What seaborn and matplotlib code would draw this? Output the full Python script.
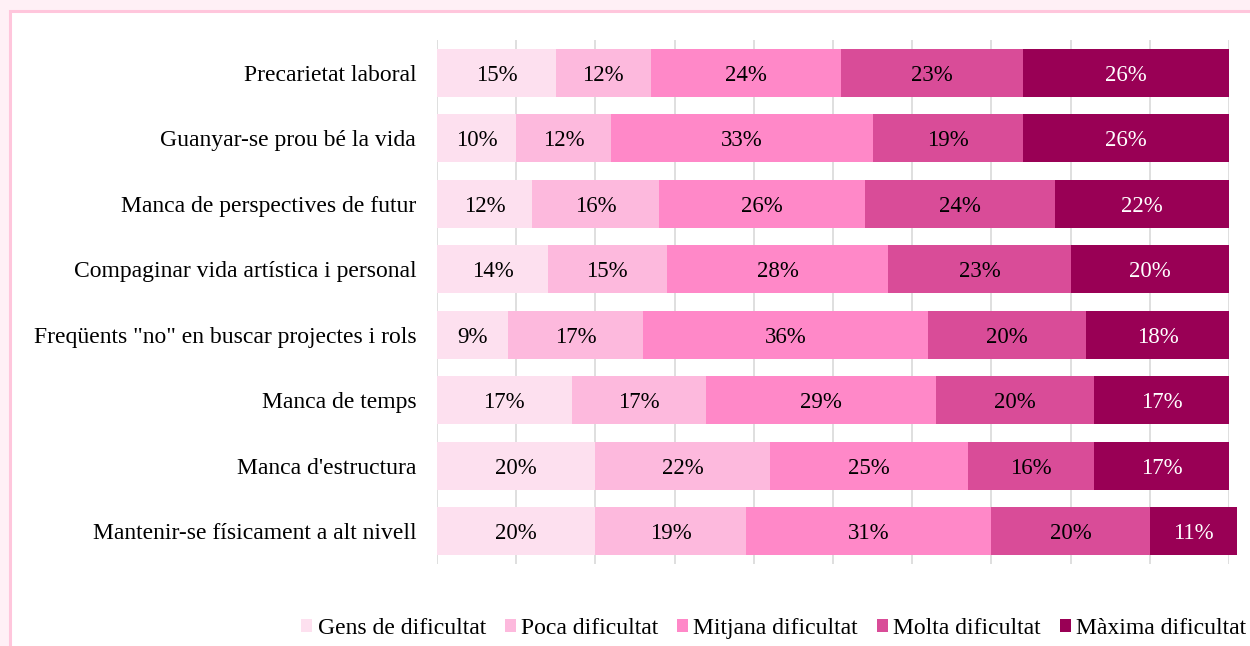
import numpy as np
import pandas as pd
import matplotlib.pyplot as plt
import seaborn as sns
from matplotlib.patches import Rectangle

# Data
categories = ['Precarietat laboral', 'Guanyar-se prou bé la vida', 'Manca de perspectives de futur',
              'Compaginar vida artística i personal', 'Freqüents "no" en buscar projectes i rols',
              'Manca de temps', "Manca d'estructura", 'Mantenir-se físicament a alt nivell']
series = ['Gens de dificultat', 'Poca dificultat', 'Mitjana dificultat', 'Molta dificultat', 'Màxima dificultat']
gens = [15, 10, 12, 14, 9, 17, 20, 20]
poca = [12, 12, 16, 15, 17, 17, 22, 19]
mitjana = [24, 33, 26, 28, 36, 29, 25, 31]
molta = [23, 19, 24, 23, 20, 20, 16, 20]
maxima = [26, 26, 22, 20, 18, 17, 17, 11]
colors = ['#fde0ef', '#fdb9dd', '#ff88c8', '#d94c98', '#990055']
text_colors = ['black', 'black', 'black', 'black', 'white']

values = np.array([gens, poca, mitjana, molta, maxima]) / 100
cum = np.cumsum(values, axis=0)

sns.set_style('white')
plt.rcParams['font.family'] = ['Liberation Serif', 'DejaVu Serif']
plt.rcParams['text.color'] = 'black'
plt.rcParams['ytick.labelcolor'] = 'black'

fig = plt.figure(figsize=(12.5, 6.46), dpi=100)
fig.patch.set_facecolor('#fff0f6')
fig.patches.append(Rectangle((10 / 1250, -0.05), 1.05, 1 - 11 / 646 + 0.05, transform=fig.transFigure,
                             facecolor='white', edgecolor='#ffc6dc', linewidth=2.2, zorder=-10))

ax = fig.add_axes([437 / 1250, 1 - 564 / 646, (1229 - 437) / 1250, (564 - 40) / 646])
ax.set_facecolor('none')
ax.set_zorder(5)

# stacked bars: draw cumulative totals from the largest down
for i in reversed(range(len(series))):
    df = pd.DataFrame({'cat': categories, 'val': cum[i]})
    sns.barplot(data=df, x='val', y='cat', orient='h', color=colors[i], width=0.73,
                saturation=1, ax=ax, zorder=2, label=series[i], linewidth=0)
for p in ax.patches:
    p.set_clip_on(False)  # last row adds up to 101%

for i in range(len(series)):
    for j in range(len(categories)):
        ax.text(cum[i][j] - values[i][j] / 2, j, f'{int(round(values[i][j] * 100))}%',
                ha='center', va='center_baseline', fontsize=16.5, color=text_colors[i], zorder=3)

ax.set_xlim(0, 1)
ax.set_ylim(len(categories) - 0.5, -0.5)
ax.set_xticks(np.arange(0, 1.01, 0.1))
ax.set_xticklabels([])
ax.grid(axis='x', color='#d9d9d9', linewidth=1.2, zorder=0)
ax.set_axisbelow(True)
ax.tick_params(axis='both', length=0)
ax.tick_params(axis='y', labelsize=17, pad=15, labelcolor='black')
ax.set_xlabel('')
ax.set_ylabel('')
for s in ax.spines.values():
    s.set_visible(False)

handles, labels = ax.get_legend_handles_labels()
order = [labels.index(s) for s in series]
ax.legend([handles[k] for k in order], series, loc='center', bbox_to_anchor=(0.619, 0.027),
          bbox_transform=fig.transFigure, ncol=5, frameon=False, fontsize=17,
          handlelength=0.47, handleheight=0.47, handletextpad=0.22, columnspacing=0.8,
          borderpad=0.2)

fig.savefig('out.png', dpi=100, facecolor=fig.get_facecolor())
